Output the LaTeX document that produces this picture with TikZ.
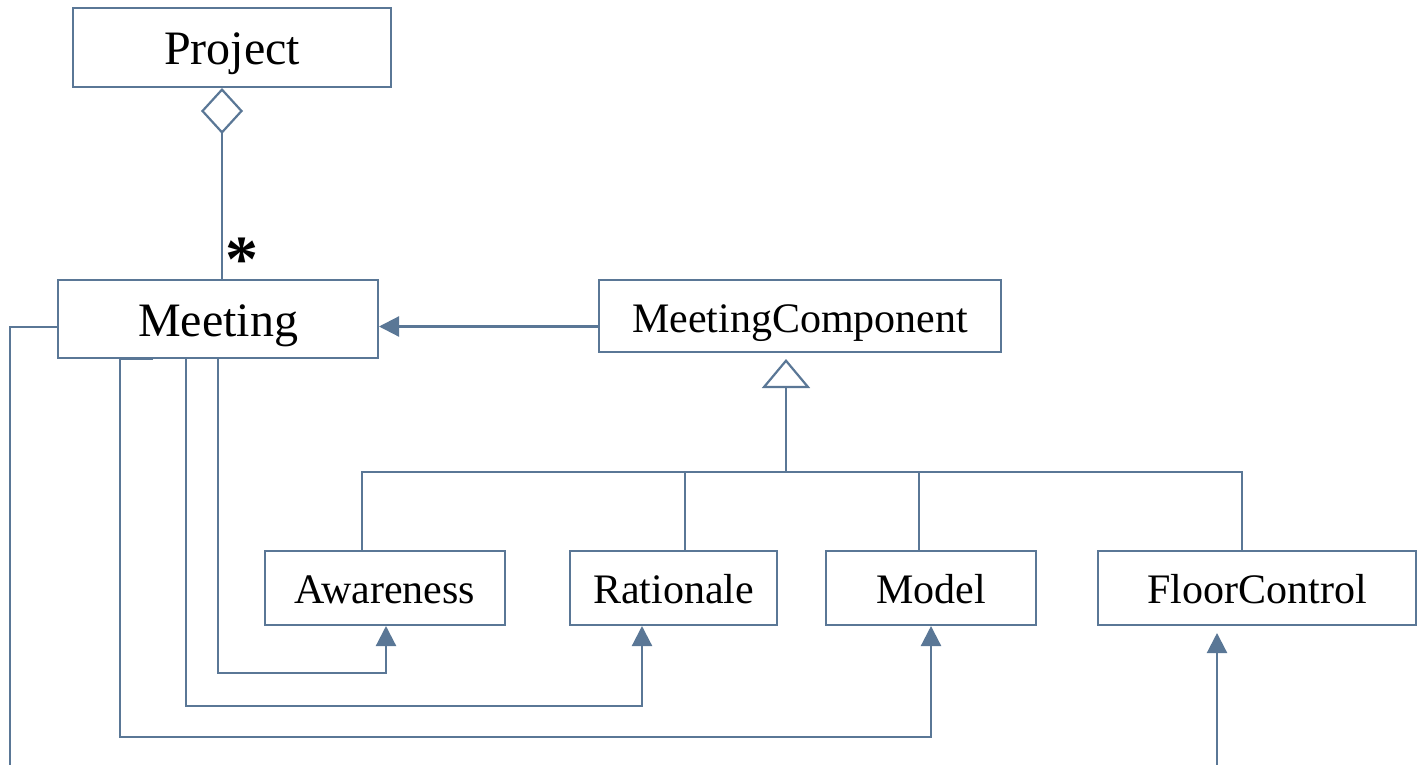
\documentclass[tikz,border=0pt]{standalone}
\usepackage{fontspec}
\setmainfont{Liberation Serif}
\usetikzlibrary{arrows.meta}
\definecolor{umlline}{RGB}{90,119,150}
\tikzset{
  cls/.style={draw=umlline, line width=2pt, fill=white, inner sep=0pt, text=black},
  bigcls/.style={cls, font=\fontsize{48}{48}\selectfont, text height=34pt, text depth=0pt},
  smallcls/.style={cls, font=\fontsize{42}{42}\selectfont, text height=31pt, text depth=0pt},
  conn/.style={draw=umlline, line width=2.2pt},
  nav/.style={conn, -{Triangle[length=20pt,width=20pt]}},
  gen/.style={conn, -{Triangle[fill=white,length=29pt,width=48pt]}},
  agg/.style={conn, {Diamond[fill=white,length=46pt,width=42pt]}-},
}
\begin{document}
\begin{tikzpicture}[x=1pt,y=-1pt]
\useasboundingbox (0,0) rectangle (1418,765);
% classes
\node[bigcls, minimum width=318pt, minimum height=79pt] (project) at (232,47.5) {Project};
\node[bigcls, minimum width=320pt, minimum height=78pt] (meeting) at (218,319) {Meeting};
\node[smallcls, minimum width=402pt, minimum height=72pt, text height=32pt] (mc) at (800,316) {MeetingComponent};
\node[smallcls, minimum width=240pt, minimum height=74pt] (aw) at (385,588) {Awareness};
\node[smallcls, minimum width=207pt, minimum height=74pt] (ra) at (673.5,588) {Rationale};
\node[smallcls, minimum width=210pt, minimum height=74pt] (mo) at (931,588) {Model};
\node[smallcls, minimum width=318pt, minimum height=74pt] (fc) at (1257,588) {FloorControl};
% free ends
\coordinate (bus) at (786,472);
\coordinate (gentip) at (786,359);
\coordinate (leftend) at (10,767);
\coordinate (fcbot) at (1217,767);
\coordinate (fctip) at (1217,633);
% aggregation Project <>-- Meeting
\draw[agg] (project.south -| 222,0) -- (meeting.north -| 222,0);
\node[font=\bfseries\fontsize{66}{66}\selectfont, inner sep=0pt] (mult) at (242,260) {*};
% MeetingComponent -> Meeting
\draw[nav] (mc.west |- 0,326.5) -- (meeting.east |- 0,326.5);
% generalization
\draw[gen] (bus) -- (gentip);
\draw[conn] (aw.north -| 362,0) |- (bus) -| (fc.north -| 1242,0);
\draw[conn] (ra.north -| 685,0) -- (bus -| 685,0);
\draw[conn] (mo.north -| 919,0) -- (bus -| 919,0);
% Meeting -> components
\draw[nav] (meeting.south -| 218,0) -- ++(0,314) -| (aw.south -| 386,0);
\draw[nav] (meeting.south -| 186,0) -- ++(0,347) -| (ra.south -| 642,0);
\draw[nav] (meeting.south -| 153,0) -- ++(-33,0) -- ++(0,378) -| (mo.south -| 931,0);
% left line
\draw[conn] (meeting.west |- 0,327) -| (leftend);
% FloorControl arrow
\draw[nav] (fcbot) -- (fctip);
\end{tikzpicture}
\end{document}
